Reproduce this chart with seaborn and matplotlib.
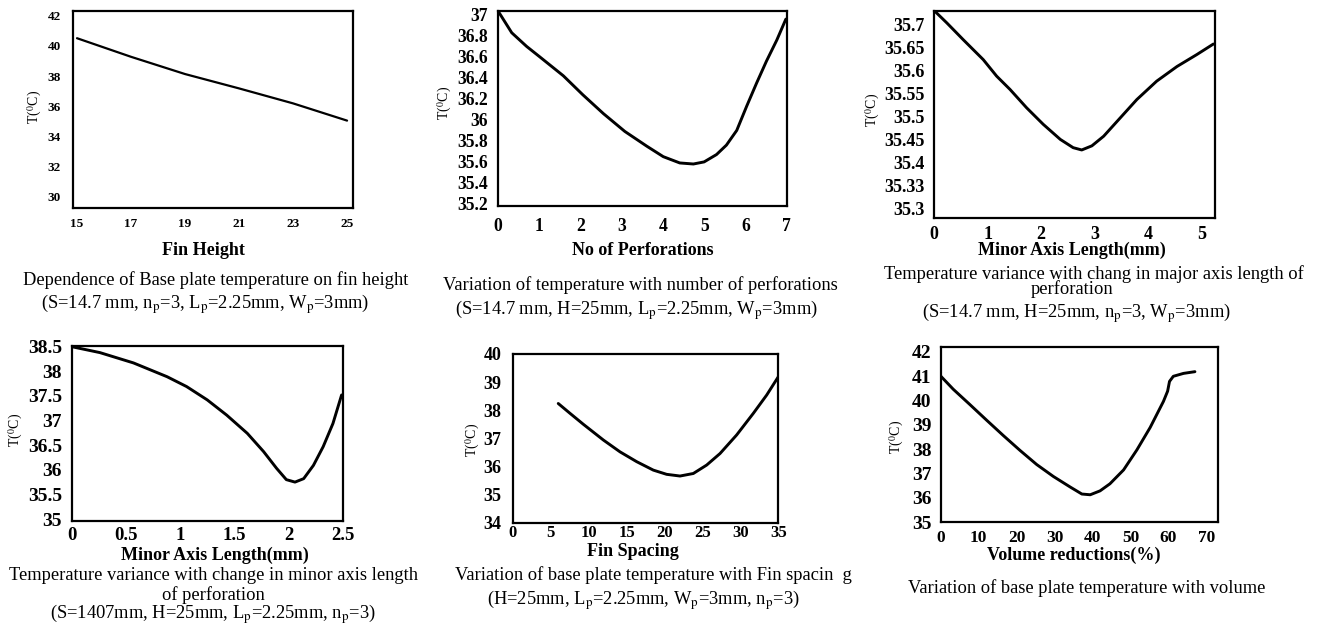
import numpy as np
import pandas as pd
import matplotlib
matplotlib.use("Agg")
import matplotlib.pyplot as plt
import seaborn as sns

# panel 1: fin height
fin_height = [15, 17, 19, 21, 23, 25]
t_fin_height = [40.5, 39.27, 38.13, 37.18, 36.19, 35.05]

# panel 2: number of perforations
n_perf = [0.02, 0.34, 0.70, 1.02, 1.59, 2.06, 2.56, 3.08, 3.61, 4.01, 4.41, 4.74, 5.0,
          5.30, 5.54, 5.79, 6.03, 6.27, 6.51, 6.76, 6.98]
t_n_perf = [37.03, 36.83, 36.70, 36.60, 36.42, 36.24, 36.06, 35.89, 35.75, 35.65, 35.59,
            35.58, 35.60, 35.67, 35.76, 35.90, 36.13, 36.35, 36.56, 36.76, 36.96]

# panel 3: major axis length (labelled minor axis)
major_axis = [0.02, 0.24, 0.55, 0.92, 1.17, 1.42, 1.73, 2.04, 2.36, 2.60, 2.76, 2.95,
              3.17, 3.48, 3.79, 4.16, 4.54, 4.91, 5.22]
t_major_axis = [35.729, 35.704, 35.667, 35.624, 35.588, 35.559, 35.519, 35.483, 35.450,
                35.432, 35.427, 35.436, 35.457, 35.497, 35.537, 35.577, 35.609, 35.635, 35.658]
major_yticks = [35.3, 35.35, 35.4, 35.45, 35.5, 35.55, 35.6, 35.65, 35.7]
major_yticklabels = ["35.3", "35.33", "35.4", "35.45", "35.5", "35.55", "35.6", "35.65", "35.7"]

# panel 4: minor axis length
minor_axis = [0.0, 0.26, 0.57, 0.88, 1.06, 1.25, 1.43, 1.62, 1.77, 1.89, 1.98, 2.06,
              2.14, 2.23, 2.32, 2.41, 2.49]
t_minor_axis = [38.5, 38.38, 38.17, 37.89, 37.69, 37.42, 37.11, 36.74, 36.37, 36.03,
                35.80, 35.75, 35.82, 36.09, 36.47, 36.94, 37.52]

# panel 5: fin spacing
fin_spacing = [6.0, 7.55, 9.31, 11.95, 14.14, 16.34, 18.53, 20.29, 22.05, 23.8, 25.56,
               27.32, 29.51, 31.71, 33.47, 35.0]
t_fin_spacing = [38.24, 37.89, 37.50, 36.94, 36.52, 36.17, 35.87, 35.72, 35.66, 35.75,
                 36.05, 36.46, 37.12, 37.89, 38.54, 39.19]

# panel 6: volume reduction
vol_red = [0, 3.3, 7.7, 12.1, 16.5, 20.9, 25.3, 29.7, 34.1, 37.2, 39.4, 42.0, 44.6, 48.2,
           51.7, 55.2, 58.7, 59.8, 60.3, 61.3, 64.0, 67.0]
t_vol_red = [41.0, 40.46, 39.83, 39.19, 38.56, 37.95, 37.37, 36.88, 36.45, 36.16, 36.13,
             36.29, 36.58, 37.15, 37.97, 38.89, 39.96, 40.38, 40.78, 40.99, 41.11, 41.18]

sns.set_style("white")
plt.rcParams["font.family"] = ["Liberation Serif", "DejaVu Serif"]
plt.rcParams["mathtext.fontset"] = "stix"
plt.rcParams["text.color"] = "black"
plt.rcParams["axes.labelcolor"] = "black"
plt.rcParams["xtick.color"] = "black"
plt.rcParams["ytick.color"] = "black"

W, H = 1320, 625
fig = plt.figure(figsize=(W / 100, H / 100), dpi=100)


def box(l, t, r, b):
    return [l / W, 1 - b / H, (r - l) / W, (b - t) / H]


def panel(rect, x, y, xlim, ylim, xticks, yticks, xfs, yfs, xpad, ypad, lw,
          xlabel, xlab_xy, ylab_xy):
    ax = fig.add_axes(box(*rect))
    sns.lineplot(x=x, y=y, ax=ax, color="black", linewidth=lw, sort=False)
    ax.lines[-1].set_solid_joinstyle("round")
    ax.lines[-1].set_solid_capstyle("round")
    ax.set_xlim(*xlim)
    ax.set_ylim(*ylim)
    ax.set_xticks(xticks)
    ax.set_yticks(yticks)
    ax.tick_params(length=0)
    ax.tick_params(axis="x", pad=xpad, labelsize=xfs)
    ax.tick_params(axis="y", pad=ypad, labelsize=yfs)
    for lab in ax.get_xticklabels() + ax.get_yticklabels():
        lab.set_fontweight("bold")
    for s in ax.spines.values():
        s.set_color("black")
        s.set_linewidth(1.6)
    l, t, r, b = rect
    ax.set_xlabel(xlabel, fontsize=13, fontweight="bold", va="center")
    ax.xaxis.set_label_coords((xlab_xy[0] - l) / (r - l), (b - xlab_xy[1]) / (b - t))
    ax.set_ylabel(r"T($^0$C)", fontsize=10, va="center")
    ax.yaxis.set_label_coords((ylab_xy[0] - l) / (r - l), (b - ylab_xy[1]) / (b - t))
    ax.grid(False)
    return ax


def caption(lines, size=13.3):
    for (cx, cy, txt) in lines:
        fig.text(cx / W, 1 - cy / H, txt, ha="center", va="center", fontsize=size)


ax1 = panel((72.7, 11, 353, 208), fin_height, t_fin_height, (14.84, 25.22), (29.27, 42.3),
            [15, 17, 19, 21, 23, 25], [30, 32, 34, 36, 38, 40, 42], 9.5, 9.5, 7, 8.5, 1.6,
            "Fin Height", (203, 250.7), (35, 107))
caption([(216, 280, "Dependence of Base plate temperature on fin height"),
         (205, 304, r"(S=14.7 mm, n$_\mathrm{p}$=3, L$_\mathrm{p}$=2.25mm, W$_\mathrm{p}$=3mm)")])

ax2 = panel((497.7, 10.7, 786.7, 206), n_perf, t_n_perf, (0, 7), (35.18, 37.04),
            list(range(8)), [35.2, 35.4, 35.6, 35.8, 36.0, 36.2, 36.4, 36.6, 36.8, 37.0],
            12.7, 12.7, 8.5, 7, 2.1, "No of Perforations", (643, 250.7), (445, 103))
ax2.set_yticklabels(["35.2", "35.4", "35.6", "35.8", "36", "36.2", "36.4", "36.6", "36.8", "37"],
                    fontweight="bold")
caption([(640, 285, "Variation of temperature with number of perforations"),
         (636.7, 310, r"(S=14.7 mm, H=25mm, L$_\mathrm{p}$=2.25mm, W$_\mathrm{p}$=3mm)")])

ax3 = panel((934, 11, 1215, 218.3), major_axis, t_major_axis, (0, 5.25), (35.278, 35.73),
            [0, 1, 2, 3, 4, 5], major_yticks, 13, 13, 5.5, 6.5, 2.1,
            "Minor Axis Length(mm)", (1071.7, 250), (873.3, 110))
ax3.set_yticklabels(major_yticklabels, fontweight="bold")
caption([(1094, 274, "Temperature variance with chang in major axis length of"),
         (1071.7, 289.3, "perforation"),
         (1076.7, 313.3, r"(S=14.7 mm, H=25mm, n$_\mathrm{p}$=3, W$_\mathrm{p}$=3mm)")])

ax4 = panel((71.7, 345.7, 342.7, 521), minor_axis, t_minor_axis, (0, 2.5), (34.96, 38.52),
            [0, 0.5, 1, 1.5, 2, 2.5], [35, 35.5, 36, 36.5, 37, 37.5, 38, 38.5], 13.5, 14, 4.5, 7,
            2.1, "Minor Axis Length(mm)", (215, 555), (15.7, 430))
ax4.set_xticklabels(["0", "0.5", "1", "1.5", "2", "2.5"], fontweight="bold")
ax4.set_yticklabels(["35", "35.5", "36", "36.5", "37", "37.5", "38", "38.5"], fontweight="bold")
caption([(213, 576, "Temperature variance with change in minor axis length"),
         (213, 595.5, "of perforation"),
         (213, 614.5, r"(S=1407mm, H=25mm, L$_\mathrm{p}$=2.25mm, n$_\mathrm{p}$=3)")])

ax5 = panel((512.7, 354, 778.3, 522.7), fin_spacing, t_fin_spacing, (0, 35), (34, 40),
            [0, 5, 10, 15, 20, 25, 30, 35], [34, 35, 36, 37, 38, 39, 40], 12, 13, 1.5, 8, 2.1,
            "Fin Spacing", (633.3, 551), (473, 440))
caption([(653.3, 575, "Variation of base plate temperature with Fin spacin  g"),
         (643.3, 600, r"(H=25mm, L$_\mathrm{p}$=2.25mm, W$_\mathrm{p}$=3mm, n$_\mathrm{p}$=3)")])

ax6 = panel((940.7, 347.3, 1217.7, 522.3), vol_red, t_vol_red, (0, 73), (35, 42.18),
            [0, 10, 20, 30, 40, 50, 60, 70], [35, 36, 37, 38, 39, 40, 41, 42], 12.5, 14, 5.5, 6.5,
            2.1, "Volume reductions(%)", (1073.3, 555), (896.7, 436.7))
caption([(1086.7, 588.3, "Variation of base plate temperature with volume")])

fig.savefig("out.png", dpi=100, facecolor="white")
